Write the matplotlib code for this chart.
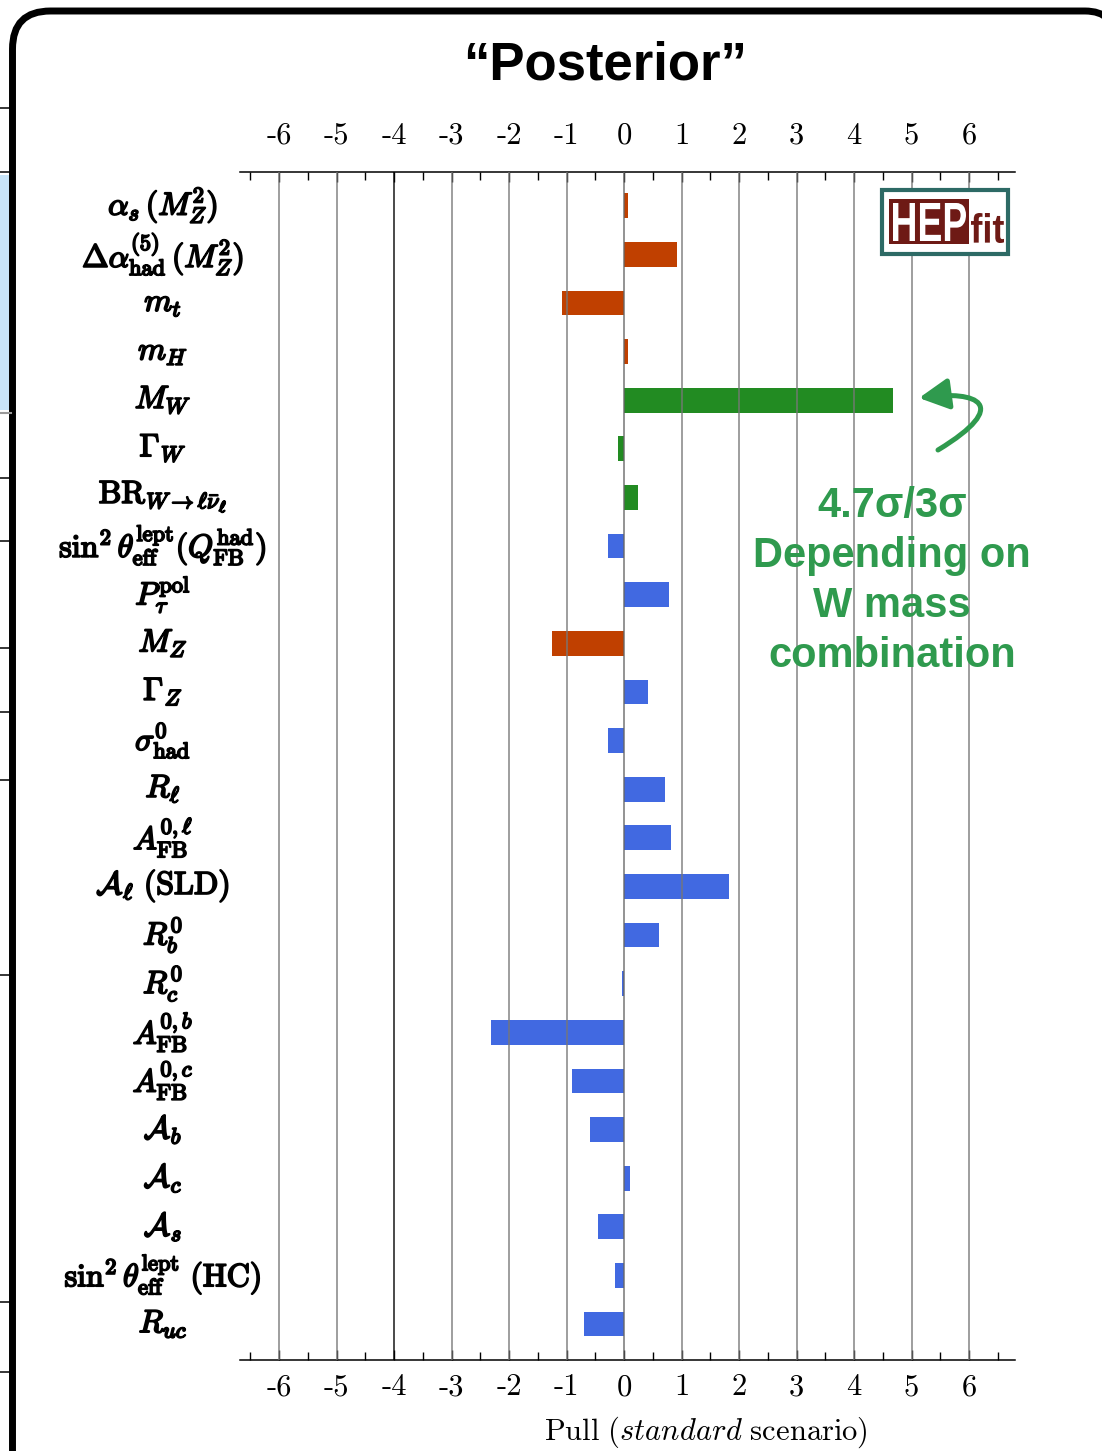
import matplotlib
matplotlib.use("Agg")
import matplotlib.pyplot as plt
import matplotlib.patheffects as pe
import numpy as np
from matplotlib.patches import Rectangle, PathPatch, FancyArrowPatch
from matplotlib.path import Path
from matplotlib.textpath import TextPath
from matplotlib.font_manager import FontProperties
from matplotlib.transforms import Affine2D, IdentityTransform
from matplotlib.lines import Line2D

plt.rcParams["mathtext.fontset"] = "cm"

W, H = 1102, 1451

# ---- data: pull per observable (top to bottom) ----
labels = [
    r"$\alpha_s\,(M_Z^2)$",
    r"$\Delta\alpha^{(5)}_{\mathrm{had}}\,(M_Z^2)$",
    r"$m_t$",
    r"$m_H$",
    r"$M_W$",
    r"$\Gamma_W$",
    r"$\mathrm{BR}_{W\rightarrow\ell\bar{\nu}_\ell}$",
    r"$\sin^2\theta^{\mathrm{lept}}_{\mathrm{eff}}(Q^{\mathrm{had}}_{\mathrm{FB}})$",
    r"$P^{\mathrm{pol}}_{\tau}$",
    r"$M_Z$",
    r"$\Gamma_Z$",
    r"$\sigma^0_{\mathrm{had}}$",
    r"$R_\ell$",
    r"$A^{0,\ell}_{\mathrm{FB}}$",
    r"$\mathcal{A}_\ell\ (\mathrm{SLD})$",
    r"$R^0_b$",
    r"$R^0_c$",
    r"$A^{0,b}_{\mathrm{FB}}$",
    r"$A^{0,c}_{\mathrm{FB}}$",
    r"$\mathcal{A}_b$",
    r"$\mathcal{A}_c$",
    r"$\mathcal{A}_s$",
    r"$\sin^2\theta^{\mathrm{lept}}_{\mathrm{eff}}\ (\mathrm{HC})$",
    r"$R_{uc}$",
]
pulls = [0.06, 0.92, -1.08, 0.06, 4.68, -0.10, 0.25, -0.28, 0.78, -1.25,
         0.42, -0.28, 0.71, 0.82, 1.83, 0.61, -0.04, -2.31, -0.90, -0.59,
         0.10, -0.45, -0.16, -0.70]
groups = ["input", "input", "input", "input", "W", "W", "W", "Z", "Z", "input",
          "Z", "Z", "Z", "Z", "Z", "Z", "Z", "Z", "Z", "Z",
          "Z", "Z", "Z", "Z"]
tick_vals = list(range(-6, 7))

COLORS = {"input": "#C04000", "W": "#228B22", "Z": "#4169E1"}
GREEN = "#2F9A4E"

fig = plt.figure(figsize=(W / 100, H / 100), dpi=100)


def pix(x, y):
    # image pixel (from top-left) -> display coords
    return x, H - y


# ---- slide frame + bits of the neighbouring slide on the left ----
fig.add_artist(Rectangle(pix(0, 410), 11, 410 - 175, transform=IdentityTransform(),
                         fc="#C8E4F8", ec="none"))
for yy in [108, 172, 478, 541, 648, 712, 780, 975, 1302, 1372]:
    fig.add_artist(Line2D([0, 11], [H - yy, H - yy], transform=IdentityTransform(),
                          color="black", lw=1.1))
fig.add_artist(Line2D([0, 11], [H - 413, H - 413], transform=IdentityTransform(),
                      color="#999999", lw=1.5))

R1, R2, top, left, rstart = 38, 30, 11, 12.5, 1085
frame = Path([pix(left, H + 50), pix(left, top + R1), pix(left, top), pix(left + R1, top),
              pix(rstart, top), pix(rstart + R2, top), pix(rstart + R2, top + R2),
              pix(rstart + R2, H + 50)],
             [Path.MOVETO, Path.LINETO, Path.CURVE3, Path.CURVE3,
              Path.LINETO, Path.CURVE3, Path.CURVE3, Path.LINETO])
fig.add_artist(PathPatch(frame, transform=IdentityTransform(), fc="none",
                         ec="black", lw=5.0))

# ---- main axes ----
ax = fig.add_axes([240 / W, 1 - 1360 / H, 775 / W, (1360 - 172) / H])
y = np.arange(len(pulls))
ax.barh(y, pulls, height=0.51, color=[COLORS[g] for g in groups], zorder=2)

for v in tick_vals:
    c = "black" if v == -4 else ("#666666" if v == 0 else "#777777")
    ax.axvline(v, color=c, lw=1.1, zorder=3, alpha=0.9)

ax.set_xlim(-6.68, 6.80)
ax.set_ylim(23.74, -0.693)
ax.set_yticks([])
ax.set_xticks(tick_vals)
ax.set_xticks(np.arange(-6.5, 7.0, 1.0), minor=True)
ax.set_xticklabels([str(v) for v in tick_vals], fontfamily="cmr10", fontsize=22)
ax.tick_params(which="both", direction="in", top=True, bottom=True,
               labeltop=False, labelbottom=True, left=False, width=1.0)
ax.tick_params(which="major", length=7, pad=10)
ax.tick_params(which="minor", length=6)
for s in ["left", "right"]:
    ax.spines[s].set_visible(False)
for s in ["top", "bottom"]:
    ax.spines[s].set_linewidth(1.1)

sec = ax.secondary_xaxis("top")
sec.set_xticks(tick_vals)
sec.set_xticklabels([str(v) for v in tick_vals], fontfamily="cmr10", fontsize=22)
sec.tick_params(length=0, pad=16)
sec.spines["top"].set_visible(False)

bold = [pe.withStroke(linewidth=1.3, foreground="black")]
for yi, lab in zip(y, labels):
    ax.text(-0.0994, yi, lab, transform=ax.get_yaxis_transform(), ha="center",
            va="center", fontsize=23, path_effects=bold)

fig.text(706 / W, 1 - 1432 / H, r"$\mathrm{Pull\ (}\mathit{standard}\mathrm{\ scenario)}$",
         ha="center", va="center", fontsize=22)

# ---- title ----
fig.text(605 / W, 1 - 65 / H, "\u201cPosterior\u201d", ha="center", va="center",
         fontsize=38, fontweight="bold", family="Liberation Sans")

# ---- W mass note + arrow ----
for txt, base in [("4.7\u03c3/3\u03c3", 517), ("Depending on", 567),
                  ("W mass", 617), ("combination", 667)]:
    fig.text(892 / W, 1 - base / H, txt, ha="center", va="baseline", fontsize=30,
             fontweight="bold", family="Liberation Sans", color=GREEN)

arrow_path = Path([pix(938, 450), pix(1012, 405), pix(978, 390), pix(919, 398)],
                  [Path.MOVETO, Path.CURVE4, Path.CURVE4, Path.CURVE4])
fig.add_artist(FancyArrowPatch(path=arrow_path, transform=IdentityTransform(),
                               arrowstyle="-|>,head_length=0.9,head_width=0.47",
                               mutation_scale=20, color=GREEN, lw=3.6,
                               shrinkA=0, shrinkB=0))


# ---- HEPfit logo ----
def stretched_text(s, x0, y0, x1, y1, color):
    tp = TextPath((0, 0), s, size=10,
                  prop=FontProperties(family="Liberation Sans", weight="bold"))
    bb = tp.get_extents()
    tr = (Affine2D().translate(-bb.x0, -bb.y0)
          .scale((x1 - x0) / bb.width, (y1 - y0) / bb.height)
          .translate(x0, H - y1))
    fig.add_artist(PathPatch(tr.transform_path(tp), transform=IdentityTransform(),
                             fc=color, ec="none"))


fig.add_artist(Rectangle(pix(882, 254), 1008 - 882, 254 - 190, transform=IdentityTransform(),
                         fc="white", ec="#2D6A65", lw=3.0))
fig.add_artist(Rectangle(pix(889, 244), 969 - 889, 244 - 199, transform=IdentityTransform(),
                         fc="#6E1A15", ec="none"))
stretched_text("HEP", 893, 203, 966, 241, "white")
stretched_text("fit", 971, 213, 1004, 243, "#6E1A15")

fig.savefig("out.png", dpi=100)
